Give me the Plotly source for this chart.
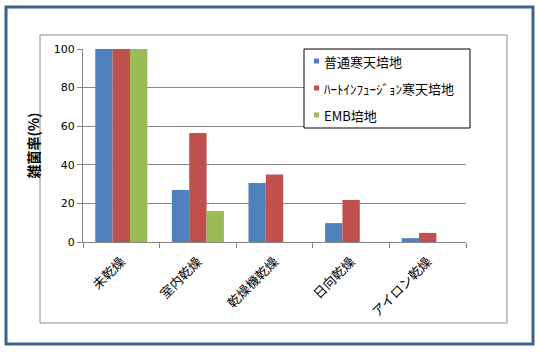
import plotly.graph_objects as go

categories = ["未乾燥", "室内乾燥", "乾燥機乾燥", "日向乾燥", "アイロン乾燥"]
series_names = ["普通寒天培地", "ﾊｰﾄｲﾝﾌｭｰｼﾞｮﾝ寒天培地", "EMB培地"]
normal_agar = [100, 27, 30.6, 9.8, 2]
heart_infusion = [100, 56.5, 35, 21.8, 4.7]
emb_agar = [100, 16, None, None, None]
series_colors = ["#4F81BD", "#C0504D", "#9BBB59"]
y_ticks = [0, 20, 40, 60, 80, 100]

W, H = 540, 352
L, R, T, B = 83, 466, 49, 242  # plot area in pixels


def px(x):
    return (x - L) / (R - L)


def py(y):
    return (B - y) / (B - T)


fig = go.Figure()
for name, vals, col in zip(series_names, [normal_agar, heart_infusion, emb_agar], series_colors):
    fig.add_trace(go.Bar(x=categories, y=vals, name=name, marker=dict(color=col, line=dict(width=0)),
                         showlegend=False))

font_main = "DejaVu Sans, Noto Sans CJK JP, sans-serif"
font_jp = "Noto Sans CJK JP, sans-serif"

shapes = [
    # outer blue frame
    dict(type="rect", xref="paper", yref="paper", x0=px(6), x1=px(533), y0=py(344), y1=py(7),
         line=dict(color="#3D6190", width=3), layer="below"),
    # inner gray frame
    dict(type="rect", xref="paper", yref="paper", x0=px(40), x1=px(507), y0=py(323), y1=py(35),
         line=dict(color="#8C8C8C", width=1), layer="below"),
    # legend box
    dict(type="rect", xref="paper", yref="paper", x0=px(304), x1=px(470), y0=py(128), y1=py(49),
         line=dict(color="#000000", width=1), fillcolor="white", layer="above"),
]
annotations = []
leg_rows = [61, 88, 115]
for name, col, yy in zip(series_names, series_colors, leg_rows):
    shapes.append(dict(type="rect", xref="paper", yref="paper", x0=px(314), x1=px(319),
                       y0=py(yy + 2.5), y1=py(yy - 2.5), line=dict(width=0), fillcolor=col, layer="above"))
    annotations.append(dict(xref="paper", yref="paper", x=px(322), y=py(yy), text=name,
                            showarrow=False, xanchor="left", yanchor="middle",
                            font=dict(family=font_jp, size=13, color="#000000")))

fig.update_layout(
    width=W, height=H,
    margin=dict(l=L, r=W - R, t=T, b=H - B, pad=0),
    paper_bgcolor="white", plot_bgcolor="white",
    barmode="group", bargap=0.32, bargroupgap=0,
    shapes=shapes, annotations=annotations,
    xaxis=dict(type="category", tickson="boundaries", ticks="outside", ticklen=5,
               tickcolor="#868686", showline=True, linecolor="#868686", linewidth=1,
               tickangle=-45, ticklabelstandoff=6,
               tickfont=dict(family=font_jp, size=13, color="#000000"),
               automargin=False),
    yaxis=dict(range=[0, 100], tickvals=y_ticks, ticks="outside", ticklen=5,
               tickcolor="#868686", showline=True, linecolor="#868686", linewidth=1,
               showgrid=True, gridcolor="#868686", gridwidth=1, zeroline=False,
               tickfont=dict(family=font_main, size=11, color="#000000"),
               title=dict(text="雑菌率(%)", standoff=10,
                          font=dict(family=font_jp, size=14, color="#000000", weight="bold")),
               automargin=False),
)

fig.write_html("out.html")
